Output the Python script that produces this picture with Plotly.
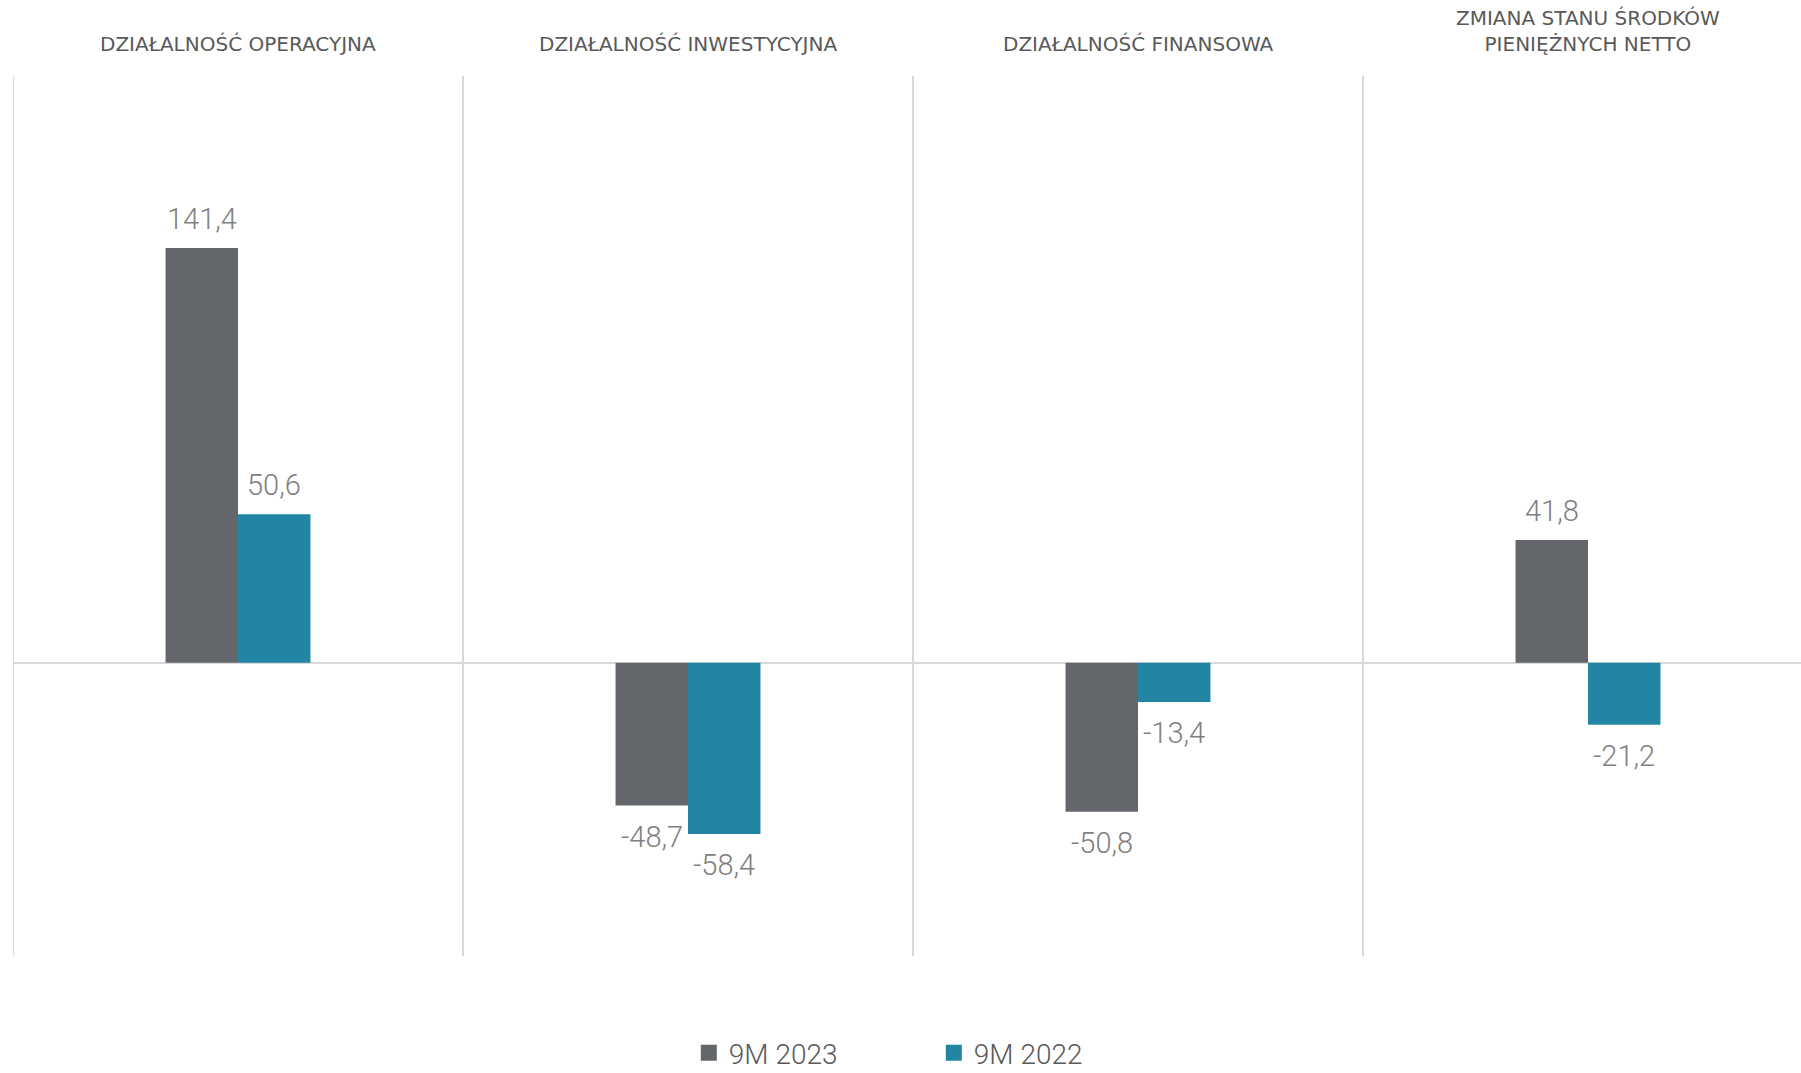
import plotly.graph_objects as go

categories = ["DZIAŁALNOŚĆ OPERACYJNA", "DZIAŁALNOŚĆ INWESTYCYJNA",
              "DZIAŁALNOŚĆ FINANSOWA", "ZMIANA STANU ŚRODKÓW<br>PIENIĘŻNYCH NETTO"]
series_names = ["9M 2023", "9M 2022"]
values_2023 = [141.4, -48.7, -50.8, 41.8]
values_2022 = [50.6, -58.4, -13.4, -21.2]
colors = ["#63666A", "#2285A3"]

FONT = "Roboto, sans-serif"
W, H = 1801, 1073
ml, mr, mt, mb = 13, 0, 76, 117
plot_h = H - mt - mb

xs = list(range(len(categories)))
fig = go.Figure()
for name, vals, col in zip(series_names, [values_2023, values_2022], colors):
    fig.add_trace(go.Bar(x=xs, y=vals, name=name, showlegend=False,
                         marker=dict(color=col, line=dict(width=0))))
# legend entries with square symbols
for name, col in zip(series_names, colors):
    fig.add_trace(go.Scatter(x=[None], y=[None], mode="markers", name=name,
                             marker=dict(symbol="square", size=16, color=col)))

# value labels
bar_w = 0.161
for si, vals in enumerate([values_2023, values_2022]):
    off = (si - 0.5) * bar_w
    for i, v in enumerate(vals):
        fig.add_annotation(x=i + off, y=v, xref="x", yref="y",
                           text=f"{v:.1f}".replace(".", ","), showarrow=False,
                           yanchor="bottom" if v >= 0 else "top",
                           yshift=10 if v >= 0 else -12,
                           font=dict(family=FONT, size=29, color="#808080", weight=300))

# headers
for i, c in enumerate(categories):
    fig.add_annotation(x=i, y=1 + 18 / plot_h, xref="x", yref="paper", text=c,
                       showarrow=False, yanchor="bottom",
                       font=dict(family="DejaVu Sans, sans-serif", size=20, color="#595959"))

# dividers
for i in xs:
    fig.add_shape(type="line", x0=i - 0.5, x1=i - 0.5, y0=0, y1=1, xref="x", yref="paper",
                  line=dict(color="#D9D9D9", width=2), layer="below")

fig.update_layout(
    width=W, height=H,
    margin=dict(l=ml, r=mr, t=mt, b=mb, autoexpand=False),
    paper_bgcolor="white", plot_bgcolor="white",
    barmode="group", bargap=1 - 2 * bar_w, bargroupgap=0,
    xaxis=dict(range=[-0.5, -0.5 + (W - ml) / 450], showticklabels=False, showgrid=False,
               zeroline=False, showline=False, ticks=""),
    yaxis=dict(range=[-100, 200], showticklabels=False, showgrid=False,
               zeroline=True, zerolinecolor="#D9D9D9", zerolinewidth=2, showline=False, ticks=""),
    showlegend=True,
    legend=dict(orientation="h", x=0.515, xanchor="center", y=-(mb + 5) / plot_h,
                yanchor="bottom", font=dict(family=FONT, size=28, color="#595959", weight=300),
                entrywidth=200, itemwidth=30),
)
fig.write_html("out.html", config={"displayModeBar": False},
               post_script="document.body.style.margin='0';document.body.style.overflow='hidden';")
